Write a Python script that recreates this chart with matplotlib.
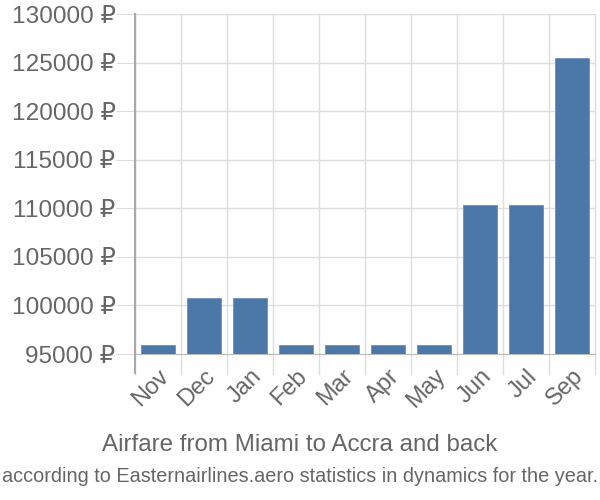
import matplotlib
matplotlib.use("Agg")
import matplotlib.pyplot as plt
import matplotlib.transforms as mtransforms
import numpy as np

months = ["Nov", "Dec", "Jan", "Feb", "Mar", "Apr", "May", "Jun", "Jul", "Sep"]
prices = [95950, 100800, 100800, 95950, 95950, 95950, 95950, 110350, 110350, 125500]
yticks = [95000, 100000, 105000, 110000, 115000, 120000, 125000, 130000]

plt.rcParams['font.family'] = ['Liberation Sans', 'DejaVu Sans']
fig = plt.figure(figsize=(6, 5), dpi=100)
ax = fig.add_axes([135/600, 1-354/500, 460/600, 340/500])

x = np.arange(len(months))
ax.bar(x, prices, width=0.72, color="#4c78a8", edgecolor="#6a90ba", linewidth=0.6, zorder=3)
ax.set_xlim(-0.5, len(months) - 0.5)
ax.set_ylim(95000, 130000)
ax.set_yticks(yticks)
ax.set_yticklabels([f"{v} ₽" for v in yticks], fontsize=17.6, color="#666666")
ax.set_xticks(x)
ax.set_xticklabels(months, rotation=45, ha="right", rotation_mode="anchor", fontsize=17, color="#666666")
offset = mtransforms.ScaledTranslation(-5/100, 0, fig.dpi_scale_trans)
for lbl in ax.get_xticklabels():
    lbl.set_transform(lbl.get_transform() + offset)
ax.tick_params(axis="x", length=0, pad=8)
ax.tick_params(axis="y", length=14, color="#dddddd", pad=0)
for b in np.arange(-0.5, len(months)):
    ax.axvline(b, color="#dddddd", lw=1, zorder=0, clip_on=False, ymin=-20/340, ymax=1)
ax.grid(axis="y", color="#dddddd", lw=1, zorder=0)
for s in ["top", "right"]:
    ax.spines[s].set_visible(False)
ax.spines["bottom"].set_color("#bbbbbb")
ax.spines["left"].set_color("#aaaaaa")
ax.spines["left"].set_bounds(95000, 130000)
ax.plot([-0.5, -0.5], [93000, 130000], color="#aaaaaa", lw=1.5, clip_on=False, zorder=4)

fig.text(0.5, 1-445/500, "Airfare from Miami to Accra and back", ha="center", va="center", fontsize=17.4, color="#666666")
fig.text(0.5, 1-476/500, "according to Easternairlines.aero statistics in dynamics for the year.", ha="center", va="center", fontsize=14.3, color="#666666")
fig.savefig("out.png", dpi=100)
